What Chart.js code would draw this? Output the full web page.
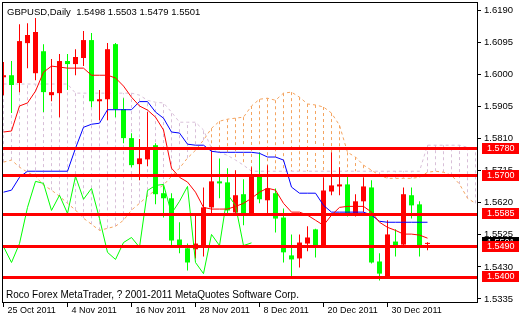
<!DOCTYPE html>
<html><head><meta charset="utf-8">
<script src="https://cdn.jsdelivr.net/npm/chart.js@4.4.0/dist/chart.umd.min.js"></script>
<style>html,body{margin:0;padding:0;background:#fff;overflow:hidden}canvas{display:block}</style>
</head><body>
<canvas id="c" width="520" height="320" style="width:520px;height:320px"></canvas>
<script>
// ---- chart data ----
const symbol = 'GBPUSD';
const timeframe = 'Daily';
const lastOHLC = [1.5498, 1.5503, 1.5479, 1.5501];
const footerText = 'Roco Forex MetaTrader, ? 2001-2011 MetaQuotes Software Corp.';

const open  = [1.5991,1.5997,1.5974,1.6092,1.6003,1.6068,1.5938,1.5944,1.6039,1.6030,
               1.6048,1.6101,1.5920,1.5926,1.6089,1.5897,1.5811,1.5734,1.5748,1.5790,
               1.5648,1.5633,1.5511,1.5485,1.5482,1.5493,1.5606,1.5683,1.5680,1.5591,
               1.5645,1.5588,1.5701,1.5627,1.5648,1.5576,1.5464,1.5455,1.5499,1.5541,
               1.5488,1.5653,1.5668,1.5674,1.5588,1.5624,1.5665,1.5446,1.5399,1.5505,
               1.5496,1.5642,1.5615,1.5498];
const high  = [1.6036,1.6039,1.6148,1.6151,1.6166,1.6089,1.6045,1.6060,1.6060,1.6074,
               1.6128,1.6122,1.5953,1.6092,1.6092,1.5929,1.5825,1.5808,1.5888,1.5796,
               1.5671,1.5648,1.5562,1.5499,1.5588,1.5665,1.5775,1.5751,1.5722,1.5716,
               1.5689,1.5725,1.5769,1.5731,1.5662,1.5603,1.5526,1.5526,1.5550,1.5543,
               1.5695,1.5769,1.5725,1.5704,1.5645,1.5695,1.5686,1.5470,1.5568,1.5541,
               1.5665,1.5665,1.5624,1.5503];
const low   = [1.5938,1.5885,1.5947,1.6018,1.5982,1.5888,1.5920,1.5873,1.5953,1.5997,
               1.6024,1.5902,1.5864,1.5864,1.5873,1.5796,1.5725,1.5686,1.5728,1.5615,
               1.5576,1.5487,1.5470,1.5419,1.5455,1.5461,1.5588,1.5633,1.5582,1.5582,
               1.5553,1.5585,1.5618,1.5588,1.5532,1.5443,1.5402,1.5428,1.5476,1.5458,
               1.5486,1.5642,1.5642,1.5579,1.5579,1.5591,1.5440,1.5390,1.5396,1.5461,
               1.5493,1.5573,1.5461,1.5479];
const close = [1.5997,1.5968,1.6098,1.6116,1.6125,1.5947,1.5947,1.6039,1.6030,1.6051,
               1.6101,1.5920,1.5926,1.6074,1.5897,1.5811,1.5731,1.5751,1.5781,1.5645,
               1.5633,1.5508,1.5490,1.5443,1.5499,1.5606,1.5683,1.5677,1.5597,1.5642,
               1.5588,1.5698,1.5630,1.5662,1.5573,1.5473,1.5452,1.5502,1.5517,1.5488,
               1.5656,1.5671,1.5674,1.5588,1.5624,1.5668,1.5443,1.5410,1.5526,1.5493,
               1.5645,1.5612,1.5493,1.5501];

// Ichimoku lines
const tenkan = [1.5829,1.5832,1.5906,1.5915,1.5950,1.6006,1.6024,1.6021,1.6018,1.6018,
                1.6018,1.5997,1.5997,1.5997,1.5989,1.5965,1.5932,1.5906,1.5894,1.5873,
                1.5835,1.5722,1.5695,1.5681,1.5651,1.5606,1.5601,1.5601,1.5601,1.5609,
                1.5618,1.5633,1.5651,1.5663,1.5657,1.5618,1.5592,1.5592,1.5583,1.5568,
                1.5553,1.5583,1.5606,1.5609,1.5609,1.5609,1.5592,1.5562,1.5547,1.5538,
                1.5527,1.5527,1.5524,1.5515];
const kijun  = [1.5651,1.5657,1.5695,1.5713,1.5713,1.5713,1.5713,1.5713,1.5713,1.5781,
                1.5843,1.5852,1.5855,1.5895,1.5895,1.5895,1.5895,1.5919,1.5919,1.5888,
                1.5870,1.5829,1.5826,1.5793,1.5790,1.5790,1.5772,1.5769,1.5769,1.5769,
                1.5769,1.5769,1.5766,1.5755,1.5755,1.5746,1.5666,1.5648,1.5648,1.5648,
                1.5612,1.5592,1.5592,1.5592,1.5592,1.5592,1.5583,1.5565,1.5562,1.5562,
                1.5562,1.5562,1.5562,1.5562];
const chikou = [1.5490,1.5443,1.5499,1.5606,1.5683,1.5677,1.5597,1.5642,1.5588,1.5698,
                1.5630,1.5662,1.5573,1.5473,1.5452,1.5502,1.5517,1.5488,1.5656,1.5671,
                1.5674,1.5588,1.5624,1.5668,1.5443,1.5410,1.5526,1.5493,1.5645,1.5612,
                1.5493,1.5501];
const spanA  = [1.5740,1.5746,1.5725,1.5710,1.5698,1.5672,1.5657,1.5639,1.5618,1.5598,
                1.5574,1.5556,1.5538,1.5544,1.5550,1.5568,1.5598,1.5618,1.5639,1.5657,
                1.5672,1.5698,1.5722,1.5752,1.5775,1.5805,1.5840,1.5861,1.5867,1.5870,
                1.5873,1.5906,1.5926,1.5929,1.5923,1.5944,1.5947,1.5932,1.5912,1.5909,
                1.5903,1.5885,1.5849,1.5769,1.5755,1.5731,1.5716,1.5701,1.5692,1.5692,
                1.5692,1.5692,1.5695,1.5710,1.5713,1.5710,1.5701,1.5675,1.5633,1.5618];
const spanB  = [1.5971,1.5971,1.5971,1.5971,1.5971,1.5971,1.5971,1.5971,1.5971,1.5944,
                1.5944,1.5944,1.5944,1.5944,1.5944,1.5944,1.5944,1.5938,1.5923,1.5917,
                1.5915,1.5888,1.5858,1.5858,1.5858,1.5835,1.5781,1.5769,1.5760,1.5746,
                1.5731,1.5713,1.5713,1.5713,1.5713,1.5713,1.5713,1.5713,1.5713,1.5713,
                1.5713,1.5713,1.5713,1.5713,1.5713,1.5713,1.5713,1.5713,1.5713,1.5713,
                1.5713,1.5713,1.5713,1.5790,1.5790,1.5790,1.5790,1.5790,1.5784,1.5781];

// horizontal price levels and bid
const levels = [1.5780, 1.5700, 1.5585, 1.5490, 1.5400];
const bid = 1.5501;

// axes
const yTicks = [1.6190, 1.6095, 1.6000, 1.5905, 1.5810, 1.5715, 1.5620, 1.5525, 1.5430, 1.5335];
const xTickIdx = [0, 8, 16, 24, 32, 40, 48];
const xTickLabels = ['25 Oct 2011', '4 Nov 2011', '16 Nov 2011', '28 Nov 2011', '8 Dec 2011', '20 Dec 2011', '30 Dec 2011'];

// ---- view / style ----
const X_MIN = -0.1875, X_MAX = 59.3125;
const Y_MIN = 1.532314, Y_MAX = 1.621367;
const RED = '#ff0000', LIME = '#00ff00', BLUE = '#0000ff', SANDY = '#f4a460', THISTLE = '#d8bfd8';
const FONT = '"Liberation Sans", Arial, sans-serif';

const pts = arr => arr.map((v, i) => ({x: i, y: v}));
const bodies = open.map((o, i) => ({x: i, y: [o, close[i]]}));
const wicks = low.map((l, i) => ({x: i, y: [l, high[i]]}));
const candleCol = open.map((o, i) => close[i] > o ? RED : LIME);
const kumoUp = [], kumoDown = [];
spanA.forEach((a, i) => {
  const b = spanB[i];
  const arr = a > b ? kumoUp : kumoDown;
  arr.push({x: i, y: a}, {x: i, y: b}, {x: i, y: null});
});

const lineDs = (data, color, order, dash) => ({
  type: 'line', data, borderColor: color, borderWidth: 1, pointRadius: 0,
  tension: 0, spanGaps: false, order, borderDash: dash || [], fill: false
});

const mtPlugin = {
  id: 'mt',
  afterDatasetsDraw(chart) {
    const {ctx, chartArea: a, scales: {y}} = chart;
    ctx.save();
    ctx.beginPath(); ctx.rect(a.left, a.top, a.right - a.left, a.bottom - a.top); ctx.clip();
    ctx.strokeStyle = RED; ctx.lineWidth = 3;
    levels.forEach(l => {
      const py = Math.round(y.getPixelForValue(l) - 0.5) + 0.5;
      ctx.beginPath(); ctx.moveTo(a.left, py); ctx.lineTo(a.right, py); ctx.stroke();
    });
    ctx.restore();
  },
  afterDraw(chart) {
    const {ctx, chartArea: a, scales: {y}} = chart;
    ctx.save();
    // frame
    ctx.strokeStyle = '#000'; ctx.lineWidth = 1;
    ctx.strokeRect(a.left + 0.5, a.top + 0.5, a.right - a.left - 1, a.bottom - a.top - 1);
    // texts
    ctx.fillStyle = '#000'; ctx.textBaseline = 'middle'; ctx.textAlign = 'left';
    ctx.font = '9.5px ' + FONT;
    ctx.fillText(symbol + ',' + timeframe + '  ' + lastOHLC.map(v => v.toFixed(4)).join(' '), a.left + 5, a.top + 10);
    ctx.font = '10px ' + FONT;
    ctx.fillText(footerText, a.left + 4, a.bottom - 8);
    // price labels on the axis
    ctx.font = '9px ' + FONT;
    const box = (val, bg) => {
      const py = Math.round(y.getPixelForValue(val));
      const x0 = a.right + 4;
      ctx.fillStyle = bg; ctx.fillRect(x0, py - 6, 519 - x0, 11);
      ctx.fillStyle = '#fff'; ctx.fillText(val.toFixed(4), x0 + 5, py);
    };
    box(bid, '#000');
    levels.forEach(l => box(l, RED));
    ctx.restore();
  }
};

new Chart(document.getElementById('c'), {
  type: 'bar',
  data: {
    datasets: [
      lineDs(kumoUp, SANDY, 20, [3, 3]),
      lineDs(kumoDown, THISTLE, 20, [3, 3]),
      lineDs(pts(spanA), SANDY, 19, [3, 3]),
      lineDs(pts(spanB), THISTLE, 19, [3, 3]),
      {type: 'bar', data: wicks, backgroundColor: candleCol, barThickness: 1, grouped: false, borderWidth: 0, inflateAmount: 0, order: 11},
      {type: 'bar', data: bodies, backgroundColor: candleCol, barThickness: 5, grouped: false, borderWidth: 0, inflateAmount: 0, minBarLength: 1, order: 10},
      lineDs(pts(tenkan), RED, 3),
      lineDs(pts(kijun), BLUE, 3),
      lineDs(pts(chikou), LIME, 3)
    ]
  },
  options: {
    responsive: false, animation: false, devicePixelRatio: 1, events: [],
    layout: {padding: {left: 2, top: 2, right: 0, bottom: 0}},
    plugins: {legend: {display: false}, tooltip: {enabled: false}, title: {display: false}},
    scales: {
      x: {
        type: 'linear', position: 'bottom', min: X_MIN, max: X_MAX, offset: false, bounds: 'data',
        grid: {drawOnChartArea: false, drawTicks: true, tickLength: 4, color: '#000', offset: false},
        border: {display: false},
        ticks: {autoSkip: false, maxRotation: 0, minRotation: 0, align: 'start', labelOffset: 4, padding: -2,
                color: '#000', font: {family: FONT, size: 9}, callback: (v, i) => xTickLabels[i]},
        afterBuildTicks: s => { s.ticks = xTickIdx.map(v => ({value: v})); },
        afterFit: s => { s.height = 17; s.paddingLeft = 0; s.paddingRight = 0; }
      },
      y: {
        type: 'linear', position: 'right', min: Y_MIN, max: Y_MAX, bounds: 'data',
        grid: {drawOnChartArea: false, drawTicks: true, tickLength: 3, color: '#000'},
        border: {display: false},
        ticks: {autoSkip: false, padding: 3, color: '#000', font: {family: FONT, size: 9.5},
                callback: (v, i) => yTicks[i].toFixed(4)},
        afterBuildTicks: s => { s.ticks = yTicks.map(v => ({value: v})); },
        afterFit: s => { s.width = 42; s.paddingTop = 0; s.paddingBottom = 0; }
      }
    }
  },
  plugins: [mtPlugin]
});
</script>
</body></html>
